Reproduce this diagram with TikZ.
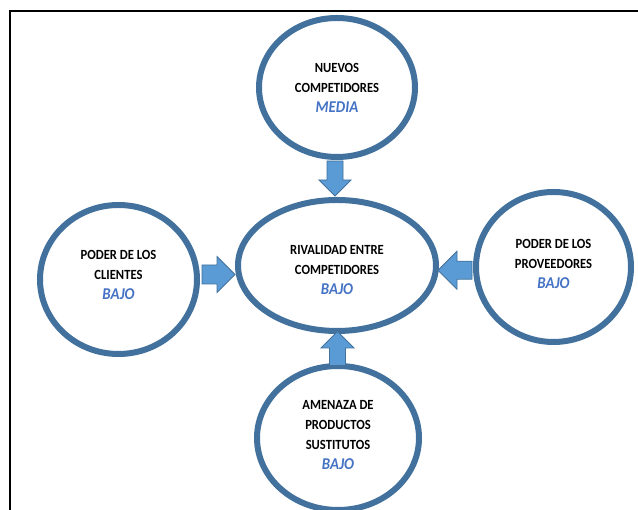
\documentclass[tikz,border=0pt]{standalone}
\usepackage{fontspec}
\newfontfamily\calib[FakeStretch=0.9]{Carlito}
\usetikzlibrary{shapes.geometric,calc}
\definecolor{ringblue}{HTML}{41719C}
\definecolor{arrowfill}{HTML}{5B9BD5}
\definecolor{bajoblue}{HTML}{4472C4}
\tikzset{
  force/.style={ellipse, draw=ringblue, line width=6pt, fill=white, inner sep=0pt},
  forcetext/.style={align=center, inner sep=0pt, font={\calib\bfseries\fontsize{14}{20}\selectfont}},
  arrowstyle/.style={fill=arrowfill, draw=ringblue, line width=0.8pt, line join=miter},
  pics/barrow/.style n args={3}{code={
    \draw[arrowstyle] (-#1/2,-#3/2) -- (#1/2-#2/2,-#3/2) -- (#1/2-#2/2,-#2/2) -- (#1/2,0)
      -- (#1/2-#2/2,#2/2) -- (#1/2-#2/2,#3/2) -- (-#1/2,#3/2) -- cycle;}}
}
\newcommand{\lvl}[1]{{\color{bajoblue}\bfseries\itshape\fontsize{16.5}{20}\selectfont #1}}
\begin{document}
\begin{tikzpicture}[x=1pt,y=1pt]
\useasboundingbox (0,0) rectangle (638,510);
\clip (0,0) rectangle (638,510);
\fill[white] (0,0) rectangle (638,510);
\draw[line width=2pt] (10,0) -- (10,499) -- (638,499);

\node[force, minimum width=156, minimum height=139,
  label={[forcetext]center:NUEVOS\\COMPETIDORES\\\lvl{MEDIA}}] (nc) at (337,422.5) {};
\node[force, minimum width=198, minimum height=131,
  label={[forcetext, yshift=-5]center:RIVALIDAD ENTRE\\COMPETIDORES\\\lvl{BAJO}}] (mid) at (337,244.5) {};
\node[force, minimum width=157, minimum height=149,
  label={[forcetext, yshift=5]center:PODER DE LOS\\CLIENTES\\\lvl{BAJO}}] (cl) at (118.5,230.5) {};
\node[force, minimum width=155, minimum height=150,
  label={[forcetext, yshift=3]center:PODER DE LOS\\PROVEEDORES\\\lvl{BAJO}}] (pv) at (553.5,243) {};
\node[force, minimum width=162, minimum height=144,
  label={[forcetext, yshift=3]center:AMENAZA DE\\PRODUCTOS\\SUSTITUTOS\\\lvl{BAJO}}] (ps) at (338,72) {};

\pic[rotate=-90] at ($(nc.south)!0.5!(mid.north)+(-2,0)$) {barrow={35}{32}{16}};
\pic at ($(cl.east)!0.5!(mid.west)+(1,-2)$) {barrow={33}{36}{19}};
\pic[rotate=180] at ($(mid.east)!0.5!(pv.west)+(-1,-4)$) {barrow={34}{38}{18}};
\pic[rotate=90] at ($(ps.north)!0.5!(mid.south)$) {barrow={34}{33}{16}};
\end{tikzpicture}
\end{document}
